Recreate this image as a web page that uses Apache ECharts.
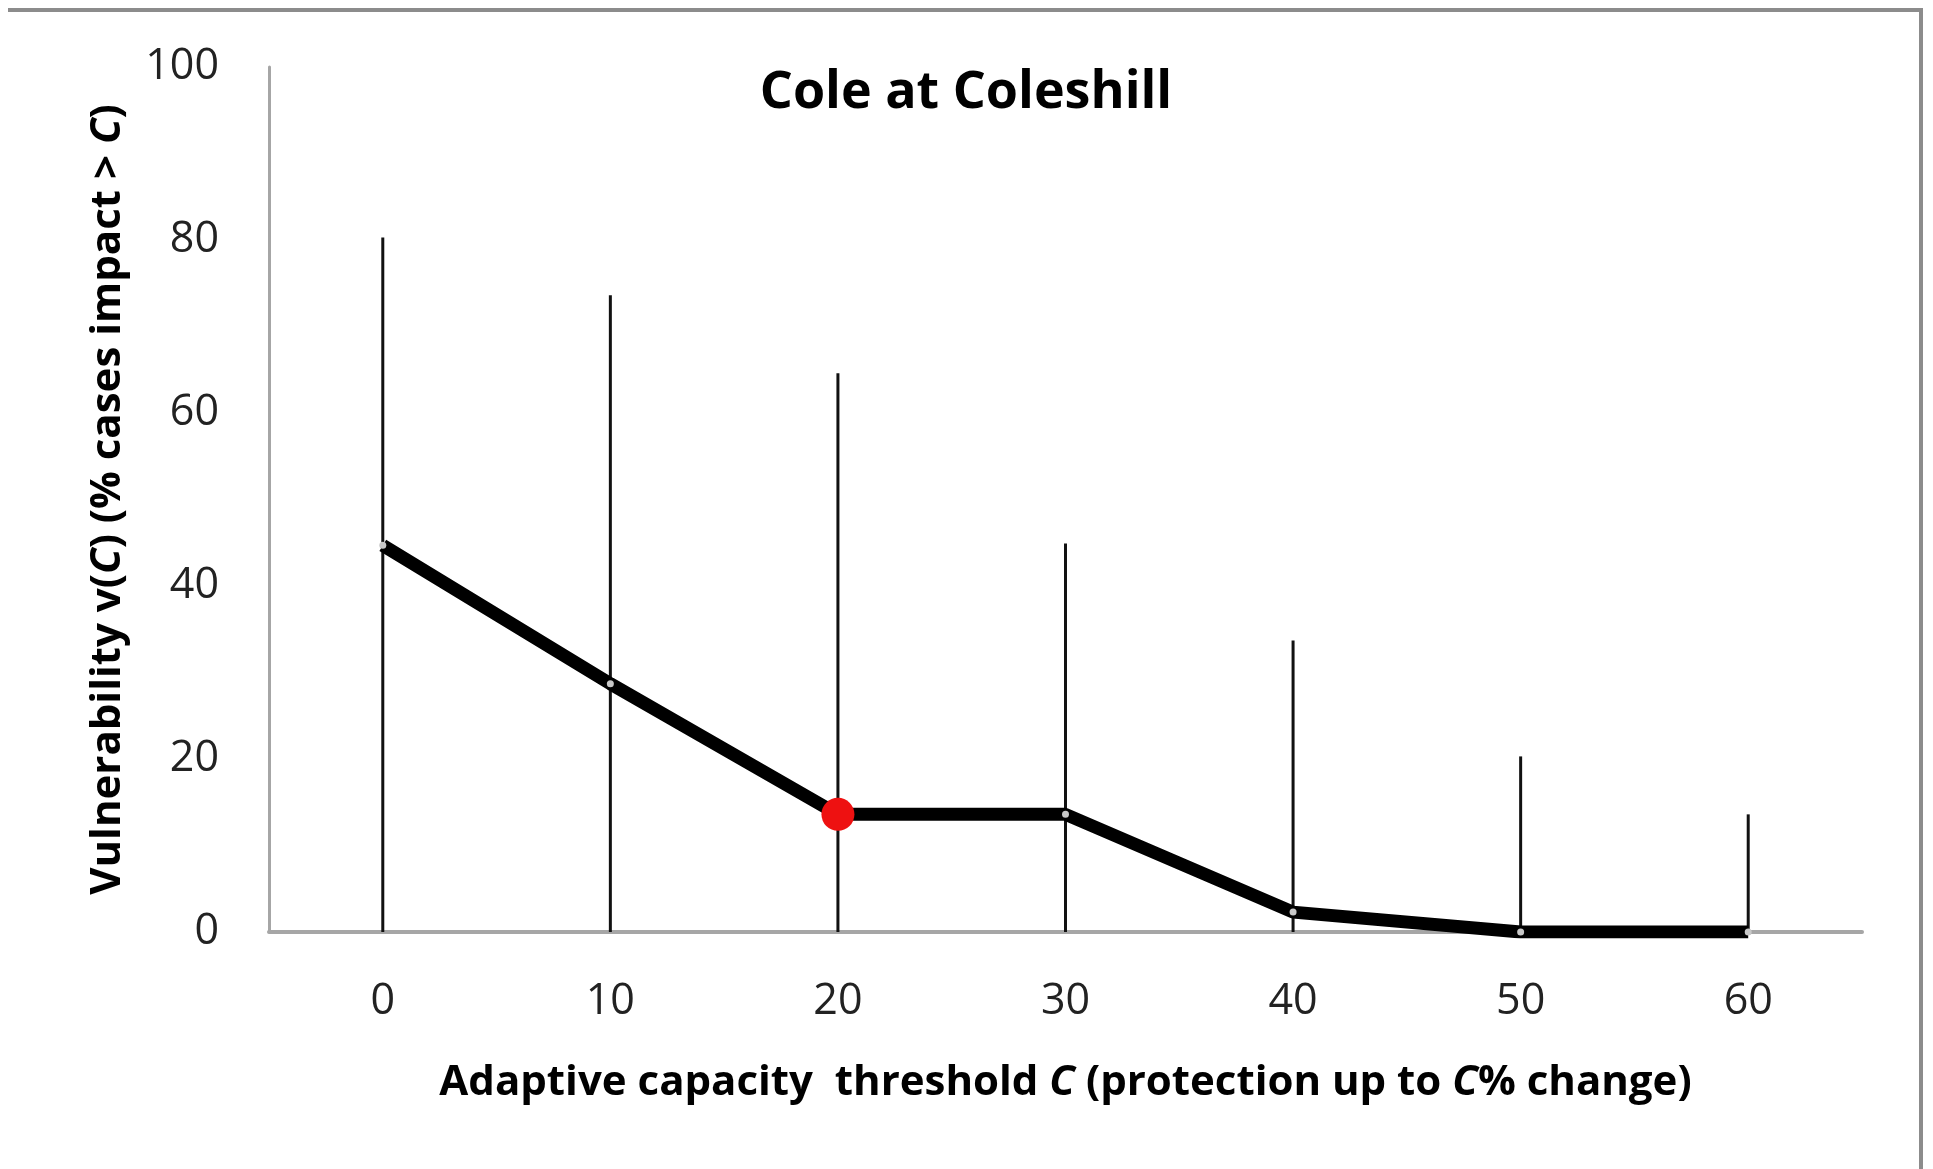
<!DOCTYPE html>
<html>
<head>
<meta charset="utf-8">
<script src="https://cdn.jsdelivr.net/npm/echarts@6/dist/echarts.min.js"></script>
<style>
html,body{margin:0;padding:0;background:#fff;}
#chart{width:1933px;height:1169px;}
</style>
</head>
<body>
<div id="chart"></div>
<script>
// ---- data ----
var categories = ['0', '10', '20', '30', '40', '50', '60'];
var vulnerability = [44.7, 28.7, 13.6, 13.6, 2.3, 0, 0];
var upperRange = [80.3, 73.6, 64.6, 44.9, 33.7, 20.3, 13.6];
var highlightIndex = 2;
var chartTitle = 'Cole at Coleshill';

var FONT = '"Open Sans", sans-serif';

var lineData = vulnerability.map(function (v, i) {
  if (i === highlightIndex) {
    return { value: v, symbolSize: 33, itemStyle: { color: '#ee1111' }, z: 10 };
  }
  return v;
});

var chart = echarts.init(document.getElementById('chart'), null, { renderer: 'canvas' });
chart.setOption({
  animation: false,
  backgroundColor: '#ffffff',
  title: {
    text: chartTitle,
    left: 961,
    textAlign: 'center',
    top: 62,
    textStyle: { fontFamily: FONT, fontWeight: 'bold', fontSize: 52, color: '#000' }
  },
  grid: { left: 269, right: 71, top: 67, bottom: 237 },
  xAxis: {
    type: 'category',
    data: categories,
    boundaryGap: true,
    axisLine: { show: true, lineStyle: { color: '#a6a6a6', width: 4 } },
    axisTick: { show: false },
    axisLabel: { fontFamily: FONT, fontSize: 43, color: '#222', margin: 48 },
    splitLine: { show: false },
    name: '{b|Adaptive capacity  threshold }{i|C}{b| (protection up to }{i|C}{b|% change)}',
    nameLocation: 'middle',
    nameGap: 130,
    nameTextStyle: {
      rich: {
        b: { fontFamily: FONT, fontWeight: 'bold', fontSize: 42, color: '#000' },
        i: { fontFamily: FONT, fontWeight: 'bold', fontStyle: 'italic', fontSize: 42, color: '#000' }
      }
    }
  },
  yAxis: {
    type: 'value',
    min: 0,
    max: 100,
    interval: 20,
    axisLine: { show: true, lineStyle: { color: '#a6a6a6', width: 3 } },
    axisTick: { show: false },
    splitLine: { show: false },
    axisLabel: { fontFamily: FONT, fontSize: 43, color: '#222', margin: 50 },
    name: '{b|Vulnerability v(}{i|C}{b|) (% cases impact > }{i|C}{b|)}',
    nameLocation: 'middle',
    nameGap: 140,
    nameRotate: 90,
    nameTextStyle: {
      rich: {
        b: { fontFamily: FONT, fontWeight: 'bold', fontSize: 42, color: '#000' },
        i: { fontFamily: FONT, fontWeight: 'bold', fontStyle: 'italic', fontSize: 42, color: '#000' }
      }
    }
  },
  series: [
    {
      type: 'bar',
      data: upperRange,
      barWidth: 3,
      itemStyle: { color: '#111' },
      z: 1
    },
    {
      type: 'line',
      data: lineData,
      symbol: 'circle',
      symbolSize: 7,
      itemStyle: { color: '#c8c8c8' },
      lineStyle: { color: '#000', width: 13 },
      z: 5
    }
  ],
  graphic: [
    { type: 'line', shape: { x1: 8, y1: 10, x2: 1922, y2: 10 }, style: { stroke: '#8c8c8c', lineWidth: 4 } },
    { type: 'line', shape: { x1: 1921, y1: 8, x2: 1921, y2: 1169 }, style: { stroke: '#8c8c8c', lineWidth: 4 } }
  ]
});
</script>
</body>
</html>
